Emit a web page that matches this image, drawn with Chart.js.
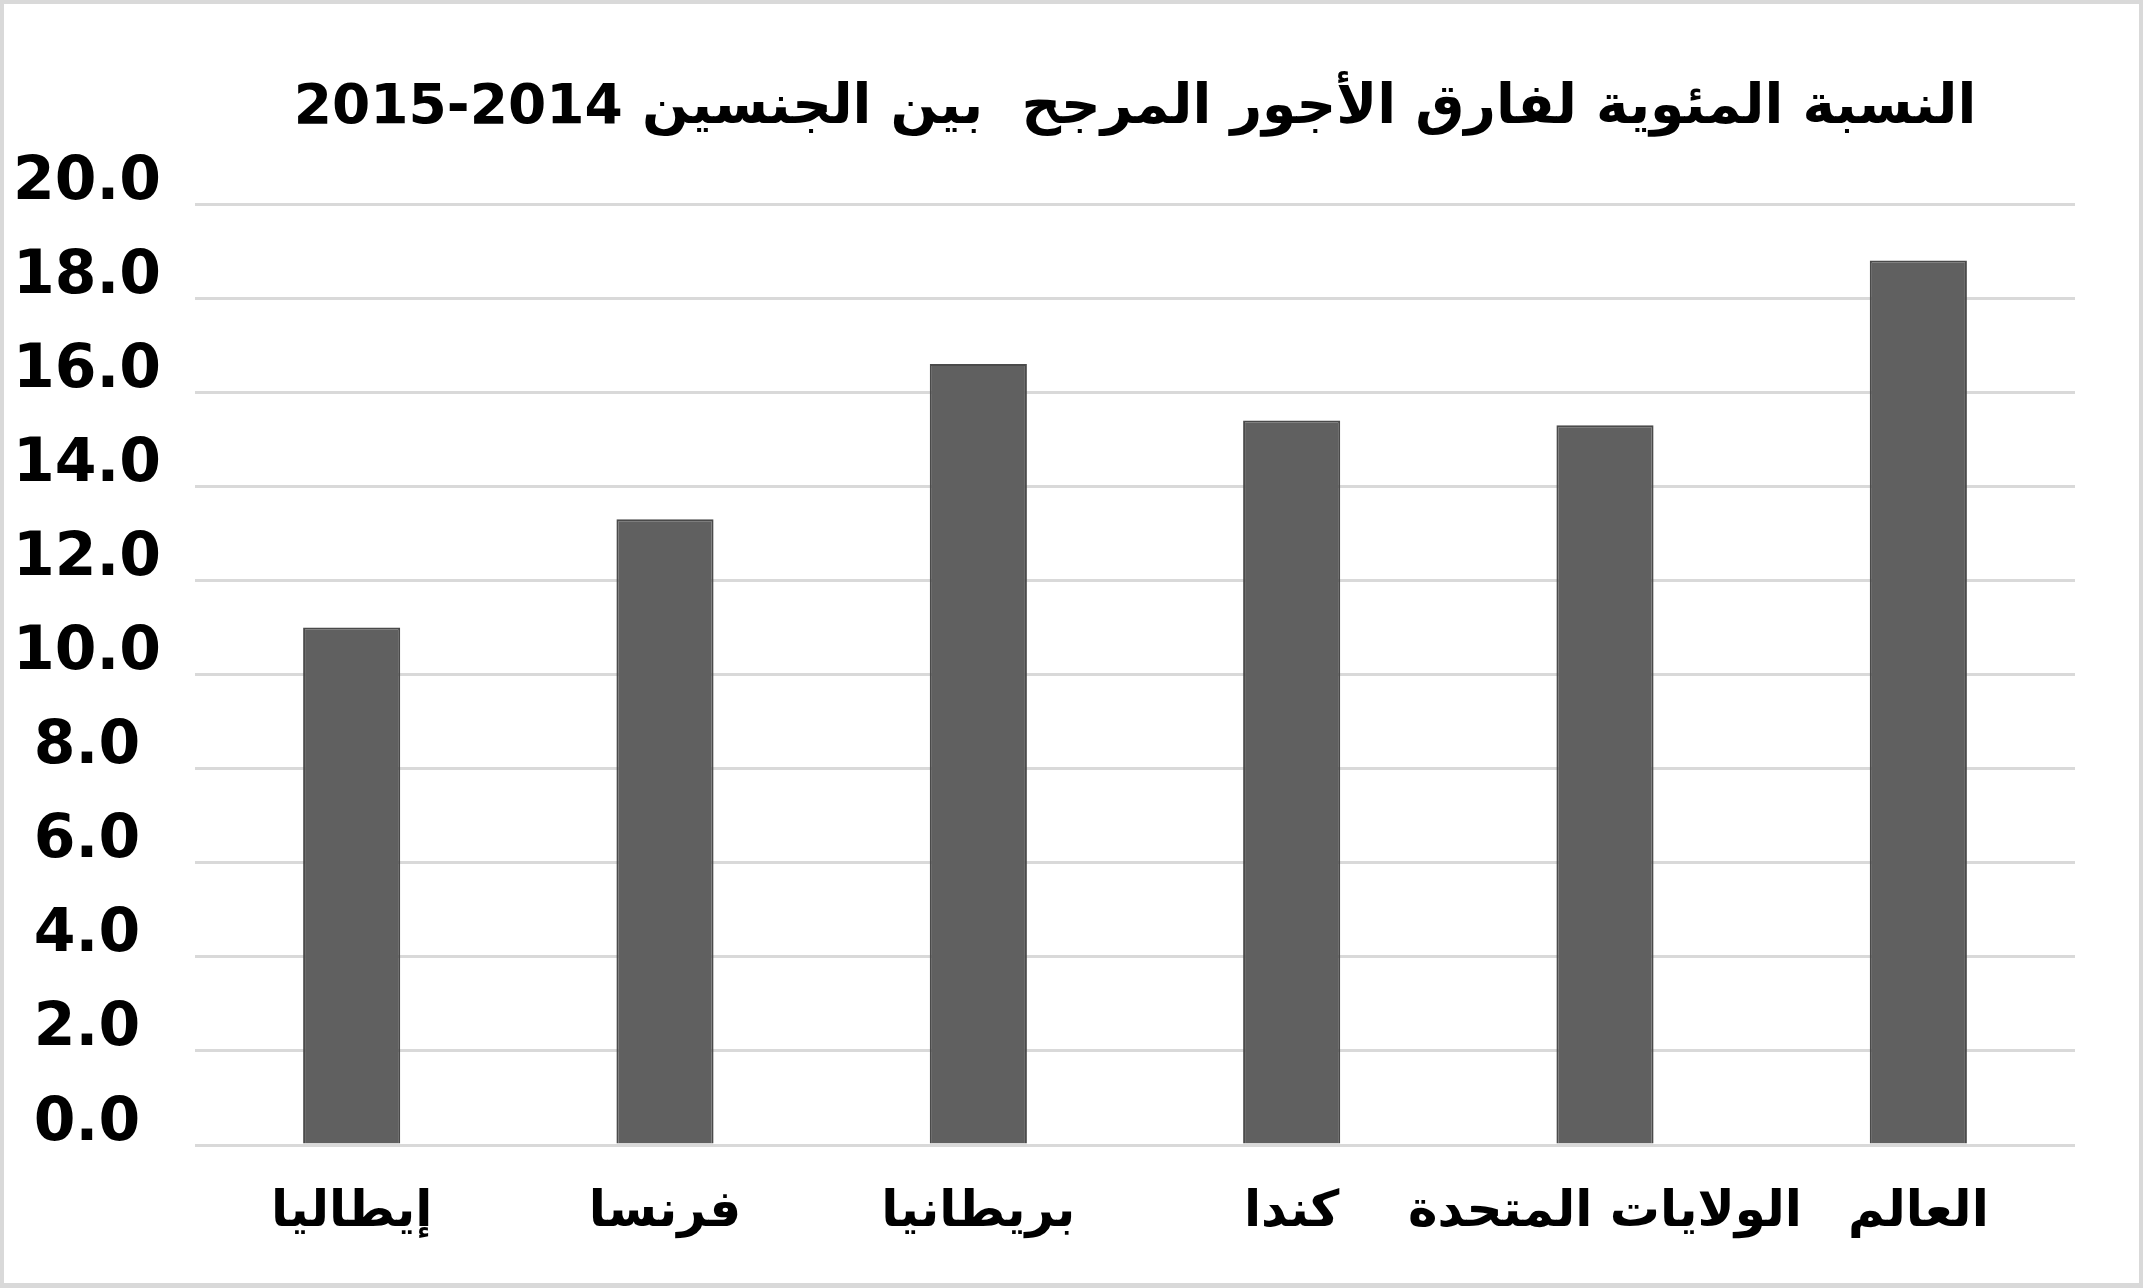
<!DOCTYPE html>
<html lang="ar">
<head>
<meta charset="utf-8">
<script src="https://cdn.jsdelivr.net/npm/chart.js@4"></script>
<style>
 html, body { margin: 0; padding: 0; background: #fff; }
 #wrap {
  width: 2143px; height: 1288px; box-sizing: border-box;
  border: 4px solid #d9d9d9; border-bottom-width: 5px; background: #fff;
 }
 #wrap canvas { display: block; }
</style>
</head>
<body>
<div id="wrap"><canvas id="gapChart" dir="rtl" width="2135" height="1279"></canvas></div>
<script>
// البيانات
const countries = ["إيطاليا", "فرنسا", "بريطانيا", "كندا", "الولايات المتحدة", "العالم"];
const gapPercent = [11.0, 13.3, 16.6, 15.4, 15.3, 18.8];
const titleText = "النسبة المئوية لفارق الأجور المرجح  بين الجنسين 2014-2015";
const yMin = 0;
const yMax = 20;
const yStep = 2;

const config = {
 type: "bar",
 data: {
  labels: countries,
  datasets: [{
   data: gapPercent,
   backgroundColor: "#606060",
   borderColor: "#4a4a4a",
   borderWidth: 2,
   barPercentage: 0.31,
   categoryPercentage: 1
  }]
 },
 options: {
  responsive: false,
  animation: false,
  layout: { padding: { left: 0, right: 64, top: 0, bottom: 10 } },
  plugins: {
   legend: { display: false },
   tooltip: { enabled: false },
   title: {
    display: true,
    text: titleText,
    fullSize: false,
    color: "#000",
    font: { family: "DejaVu Sans", weight: "bold", size: 55 },
    padding: { top: 72, bottom: 62 }
   }
  },
  scales: {
   y: {
    min: yMin,
    max: yMax,
    ticks: {
     stepSize: yStep,
     color: "#000",
     font: { family: "DejaVu Sans", weight: "bold", size: 60 },
     crossAlign: "center",
     padding: 34,
     labelOffset: -21,
     callback: v => Number(v).toFixed(1)
    },
    grid: { color: "#d9d9d9", lineWidth: 3, drawTicks: false },
    border: { display: false },
    afterFit: scale => { scale.width = 191; }
   },
   x: {
    ticks: {
     color: "#000",
     font: { family: "DejaVu Sans", weight: "bold", size: 50 },
     padding: 30,
     maxRotation: 0,
     autoSkip: false
    },
    grid: { display: false },
    border: { display: false }
   }
  }
 }
};

const gapChart = new Chart(document.getElementById("gapChart"), config);
</script>
</body>
</html>
